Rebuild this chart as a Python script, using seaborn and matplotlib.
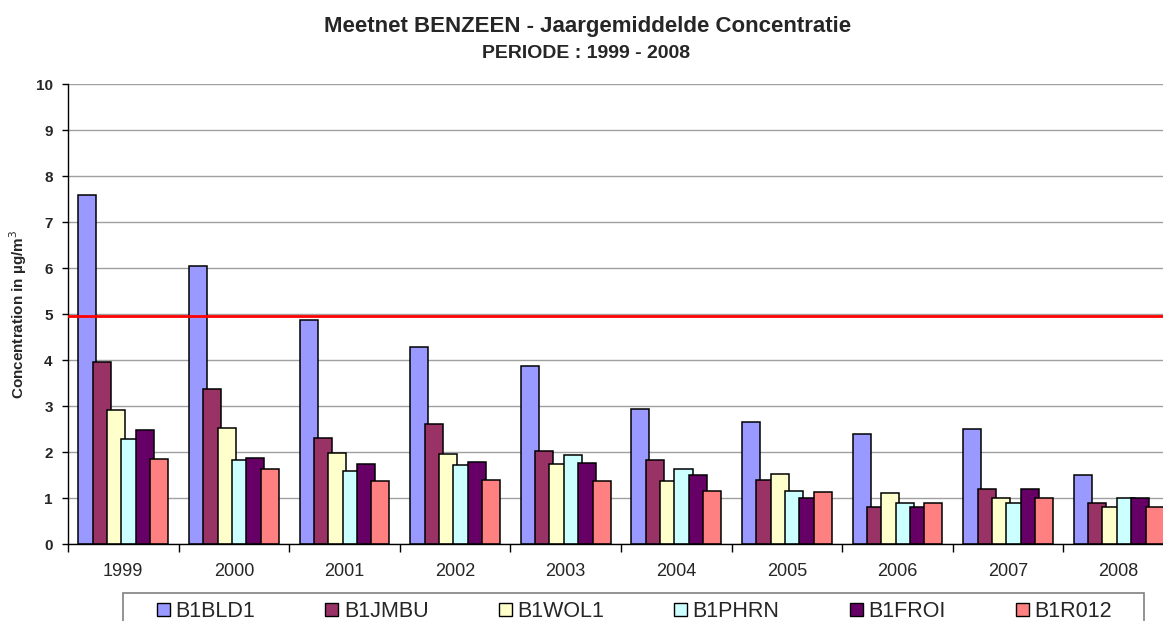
import pandas as pd
import seaborn as sns
import matplotlib.pyplot as plt

sns.set_theme(style="white")
plt.rcParams['font.family'] = ['Liberation Sans', 'DejaVu Sans']

years = ['1999', '2000', '2001', '2002', '2003', '2004', '2005', '2006', '2007', '2008']
stations = ['B1BLD1', 'B1JMBU', 'B1WOL1', 'B1PHRN', 'B1FROI', 'B1R012']
b1bld1 = [7.58, 6.04, 4.88, 4.28, 3.88, 2.93, 2.65, 2.40, 2.50, 1.50]
b1jmbu = [3.96, 3.37, 2.31, 2.61, 2.02, 1.82, 1.39, 0.81, 1.20, 0.90]
b1wol1 = [2.91, 2.53, 1.97, 1.95, 1.73, 1.36, 1.53, 1.10, 0.99, 0.80]
b1phrn = [2.29, 1.82, 1.59, 1.71, 1.93, 1.64, 1.15, 0.90, 0.90, 0.99]
b1froi = [2.47, 1.87, 1.73, 1.79, 1.77, 1.49, 1.01, 0.81, 1.20, 0.99]
b1r012 = [1.85, 1.62, 1.36, 1.39, 1.37, 1.16, 1.14, 0.90, 0.99, 0.80]
limit = 4.95
colors = ['#9999FF', '#993366', '#FFFFCC', '#CCFFFF', '#660066', '#FF8080']

series = [b1bld1, b1jmbu, b1wol1, b1phrn, b1froi, b1r012]
df = pd.DataFrame({
    'jaar': years * len(stations),
    'station': [s for s in stations for _ in years],
    'waarde': [v for vals in series for v in vals],
})

fig = plt.figure(figsize=(11.63, 6.21), dpi=100)
ax = fig.add_axes([68 / 1163, 1 - 544 / 621, 1106 / 1163, 460 / 621])

sns.barplot(data=df, x='jaar', y='waarde', hue='station', hue_order=stations,
            palette=colors, width=0.78, edgecolor='black', linewidth=1.1,
            saturation=1, ax=ax, legend=False)

# Excel-style overlap: bars a bit wider than their spacing
bar_w = 0.163
for cont in ax.containers:
    for bar in cont:
        c = bar.get_x() + bar.get_width() / 2
        bar.set_width(bar_w)
        bar.set_x(c - bar_w / 2)

ax.axhline(limit, color='#FF0000', linewidth=2, zorder=5)

ax.set_ylim(0, 10)
ax.set_xlim(-0.5, len(years) - 0.5)
ax.set_yticks(range(0, 11))
ax.yaxis.grid(True, color='#A0A0A0', linewidth=1)
ax.set_axisbelow(True)
for lbl in ax.get_yticklabels():
    lbl.set_fontweight('bold')
ax.tick_params(axis='y', labelsize=11, length=4, width=1, color='black',
               direction='out', left=True, pad=7)
ax.tick_params(axis='x', labelsize=13, length=0, pad=14)
ax.set_xticks([i - 0.5 for i in range(len(years) + 1)], minor=True)
ax.tick_params(axis='x', which='minor', length=6, width=1, color='black',
               direction='out', bottom=True)

for side in ['top', 'right']:
    ax.spines[side].set_visible(False)
ax.spines['left'].set_color('black')
ax.spines['bottom'].set_color('black')
ax.spines['left'].set_linewidth(1)
ax.spines['bottom'].set_linewidth(1)

ax.set_xlabel('')
ax.set_ylabel('Concentration in µg/m$^3$', fontsize=11, fontweight='bold')
ax.yaxis.set_label_coords(-39 / 1106, 0.5)

fig.text(588 / 1163, 1 - 32 / 621, 'Meetnet BENZEEN - Jaargemiddelde Concentratie',
         ha='center', va='baseline', fontsize=16, fontweight='bold')
fig.text(586 / 1163, 1 - 58 / 621, 'PERIODE : 1999 - 2008',
         ha='center', va='baseline', fontsize=14, fontweight='bold')

# legend entries spread evenly, frame drawn separately (cut off at the bottom)
handles = [plt.Rectangle((0, 0), 1, 1, facecolor=c, edgecolor='black', linewidth=1)
           for c in colors]
fig.legend(handles, stations, loc='upper left', ncol=6, mode='expand',
           bbox_to_anchor=(157 / 1163, 1 - 601 / 621 - 0.05, 955 / 1163, 0.05),
           fontsize=15.5, frameon=False, handlelength=0.6, handleheight=0.6,
           handletextpad=0.25, borderaxespad=0, borderpad=0)
fig.add_artist(plt.Rectangle((123 / 1163, -0.05), 1021 / 1163, 28 / 621 + 0.05,
                             transform=fig.transFigure, fill=False,
                             edgecolor='#808080', linewidth=1.2))

fig.savefig('out.png', dpi=100)
